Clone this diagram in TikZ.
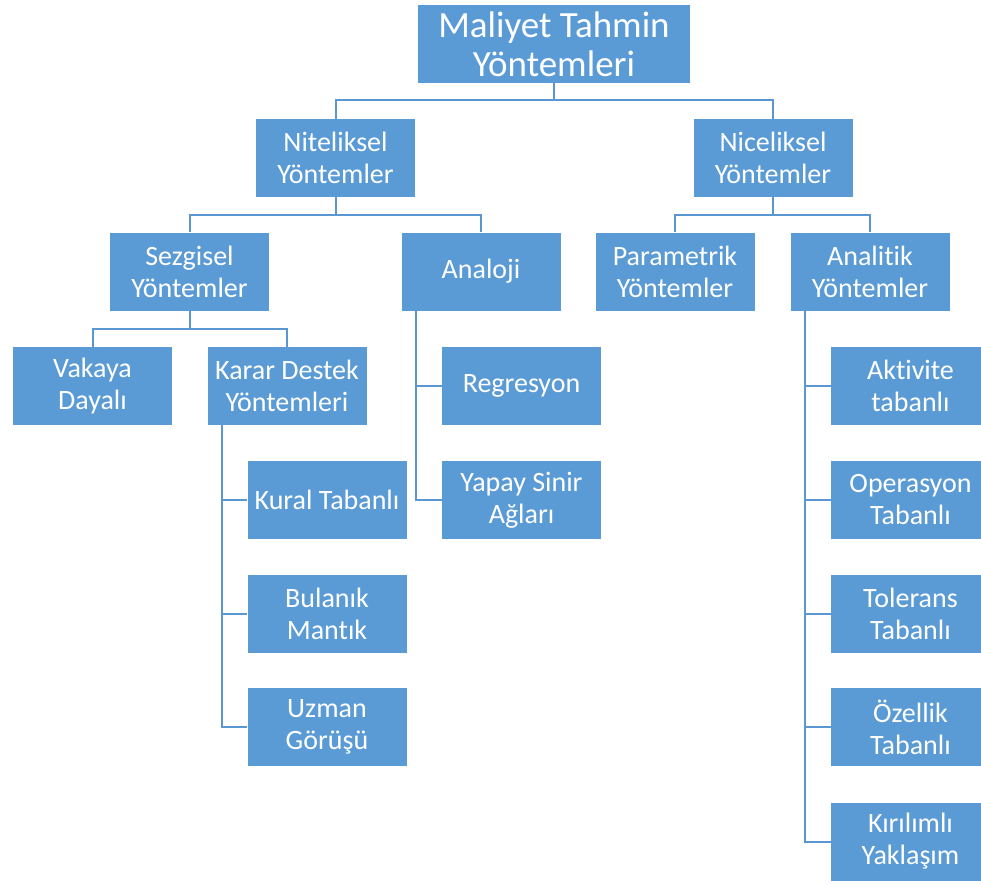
\documentclass[tikz,border=0pt]{standalone}
\usepackage{fontspec}
\setmainfont[Ligatures=NoCommon]{Carlito}
\definecolor{boxblue}{HTML}{5B9BD5}
\definecolor{lineblue}{HTML}{5A96D0}
\begin{document}
\begin{tikzpicture}[x=1pt,y=-1pt,
  box/.style={fill=boxblue, text=white, minimum width=159pt, minimum height=78pt,
    align=center, inner sep=0pt, font=\fontsize{28}{32}\selectfont},
  conn/.style={draw=lineblue, line width=2pt}]
\useasboundingbox (0,0) rectangle (981,884);
\clip (0,0) rectangle (981,884);
\node[box, minimum width=272pt, font=\fontsize{37}{39}\selectfont] (top) at (554,44) {Maliyet Tahmin\\Yöntemleri};
\node[box] (nit) at (335.5,158) {Niteliksel\\Yöntemler};
\node[box] (nic) at (773,158) {Niceliksel\\Yöntemler};
\node[box] (sez) at (189.5,271.5) {Sezgisel\\Yöntemler};
\node[box] (ana) at (481,271.5) {Analoji};
\node[box] (par) at (675,271.5) {Parametrik\\Yöntemler};
\node[box] (anl) at (870,271.5) {Analitik\\Yöntemler};
\node[box] (vak) at (92.5,386) {Vakaya\\Dayalı};
\node[box] (kar) at (287,386) {Karar Destek\\Yöntemleri};
\node[box] (reg) at (521.5,386) {Regresyon};
\node[box] (yap) at (521.5,500) {Yapay Sinir\\Ağları};
\node[box] (kur) at (327,500) {Kural Tabanlı};
\node[box] (bul) at (327,613.5) {Bulanık\\Mantık};
\node[box] (uzm) at (327,727) {Uzman\\Görüşü};
\node[box] (akt) at (910.5,386) {Aktivite\\tabanlı};
\node[box] (ope) at (910.5,500) {Operasyon\\Tabanlı};
\node[box] (tol) at (910.5,613.5) {Tolerans\\Tabanlı};
\node[box] (oze) at (910.5,727) {Özellik\\Tabanlı};
\node[box] (kir) at (910.5,841.5) {Kırılımlı\\Yaklaşım};
% tree connectors
\draw[conn] (top.south) -- ++(0,17) -| (nit.north);
\draw[conn] (top.south) -- ++(0,17) -| (nic.north);
\draw[conn] (nit.south) -- ++(0,18) -| (sez.north);
\draw[conn] (nit.south) -- ++(0,18) -| (ana.north);
\draw[conn] (nic.south) -- ++(0,18) -| (par.north);
\draw[conn] (nic.south) -- ++(0,18) -| (anl.north);
\draw[conn] (sez.south) -- ++(0,18.5) -| (vak.north);
\draw[conn] (sez.south) -- ++(0,18.5) -| (kar.north);
% side lists
\draw[conn] ([xshift=15pt]kar.south west) |- (kur.west);
\draw[conn] ([xshift=15pt]kar.south west) |- (bul.west);
\draw[conn] ([xshift=15pt]kar.south west) |- (uzm.west);
\draw[conn] ([xshift=15pt]ana.south west) |- (reg.west);
\draw[conn] ([xshift=15pt]ana.south west) |- (yap.west);
\draw[conn] ([xshift=15pt]anl.south west) |- (akt.west);
\draw[conn] ([xshift=15pt]anl.south west) |- (ope.west);
\draw[conn] ([xshift=15pt]anl.south west) |- (tol.west);
\draw[conn] ([xshift=15pt]anl.south west) |- (oze.west);
\draw[conn] ([xshift=15pt]anl.south west) |- (kir.west);
\end{tikzpicture}
\end{document}
